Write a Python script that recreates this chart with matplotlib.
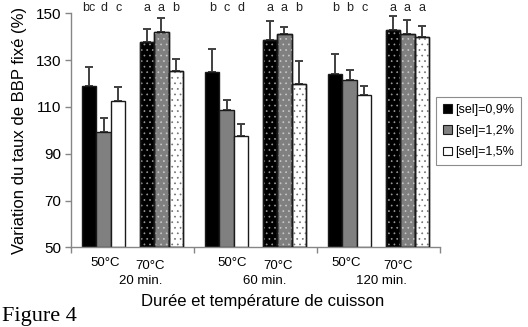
import matplotlib
matplotlib.use("Agg")
import matplotlib.pyplot as plt
import matplotlib.transforms as mtransforms
from matplotlib.patches import Patch

# ---- data ----
durations = ["20 min.", "60 min.", "120 min."]
temperatures = ["50°C", "70°C"]
series_labels = ["[sel]=0,9%", "[sel]=1,2%", "[sel]=1,5%"]
# order: 20min 50°C, 20min 70°C, 60min 50°C, 60min 70°C, 120min 50°C, 120min 70°C
sel_09 = [118.9, 137.9, 124.8, 138.5, 123.9, 142.7]
err_09 = [8.3, 5.3, 9.9, 8.2, 8.8, 6.0]
sel_12 = [99.3, 142.0, 108.5, 141.0, 121.6, 141.0]
err_12 = [6.1, 6.0, 4.3, 3.0, 4.2, 6.3]
sel_15 = [112.7, 125.5, 97.4, 119.8, 115.1, 140.0]
err_15 = [5.7, 5.1, 5.2, 9.7, 4.0, 4.4]
letters_09 = ["bc", "a", "b", "a", "b", "a"]
letters_12 = ["d", "a", "c", "a", "b", "a"]
letters_15 = ["c", "b", "d", "b", "c", "a"]
y_ticks = [50, 70, 90, 110, 130, 150]

values = [sel_09, sel_12, sel_15]
errors = [err_09, err_12, err_15]
letters = [letters_09, letters_12, letters_15]

# ---- style ----
W, H = 528, 327
plt.rcParams["hatch.linewidth"] = 0.5
fig = plt.figure(figsize=(W / 100, H / 100), dpi=100)
ax = fig.add_axes([71 / W, 1 - 247.3 / H, (440 - 71) / W, (247.3 - 13.3) / H])

face_colors = ["#000000", "#808080", "#ffffff"]
dot_colors = ["#9a9a9a", "#c8c8c8", "#707070"]
bar_w = 0.118
cluster_off = 0.234
axis_gray = "#868686"

for g in range(len(durations)):
    for t in range(len(temperatures)):
        idx = g * 2 + t
        center = g + 0.5 + (t - 0.5) * 2 * cluster_off
        for s in range(3):
            x = center + (s - 1) * bar_w
            v = values[s][idx]
            e = errors[s][idx]
            ax.bar(x, v - 50, bottom=50, width=bar_w, color=face_colors[s],
                   edgecolor="#1a1a1a", linewidth=1.0, zorder=2)
            if t == 1:
                ax.bar(x, v - 50, bottom=50, width=bar_w, facecolor="none",
                       edgecolor=dot_colors[s], linewidth=0, hatch="...", zorder=3)
                ax.bar(x, v - 50, bottom=50, width=bar_w, facecolor="none",
                       edgecolor="#1a1a1a", linewidth=1.0, zorder=4)
            ax.errorbar(x, v, yerr=[[0], [e]], fmt="none", ecolor="#404040",
                        elinewidth=1.4, capsize=3.2, capthick=1.4, zorder=1)
            ax.text(x, 151.0, letters[s][idx], ha="center", va="baseline",
                    fontsize=9, family="Liberation Sans", color="#222222",
                    clip_on=False)

ax.set_xlim(0, 3)
ax.set_ylim(50, 150)
ax.set_yticks(y_ticks)
ax.set_yticklabels([str(v) for v in y_ticks], fontsize=11, family="Liberation Sans")
ax.set_xticks([0, 1, 2, 3])
ax.set_xticklabels([])
for sp in ["top", "right"]:
    ax.spines[sp].set_visible(False)
for sp in ["left", "bottom"]:
    ax.spines[sp].set_color(axis_gray)
    ax.spines[sp].set_linewidth(1.0)
ax.tick_params(axis="both", direction="out", length=4, color=axis_gray, width=1.0)
ax.tick_params(axis="y", pad=3)

ax.set_ylabel("Variation du taux de BBP fixé (%)", fontsize=12,
              family="Liberation Sans", labelpad=6)

trans = mtransforms.blended_transform_factory(ax.transData, fig.transFigure)
temp_label_x = [0.280, 0.640, 1.309, 1.683, 2.236, 2.659]
for i, xpos in enumerate(temp_label_x):
    t = i % 2
    ybase = 1 - (266 if t == 0 else 269.3) / H
    ax.text(xpos, ybase, temperatures[t], transform=trans, ha="center",
            va="baseline", fontsize=9.5, family="Liberation Sans")
dur_label_x = [0.569, 1.577, 2.52]
for g, xpos in enumerate(dur_label_x):
    ax.text(xpos, 1 - 284 / H, durations[g], transform=trans, ha="center",
            va="baseline", fontsize=9.5, family="Liberation Sans")

fig.text(263 / W, 1 - 305.7 / H, "Durée et température de cuisson",
         ha="center", va="baseline", fontsize=12, family="Liberation Sans")
fig.text(2 / W, 1 - 321.5 / H, "Figure 4", ha="left", va="baseline",
         fontsize=16, family="Liberation Serif")

handles = [Patch(facecolor=c, edgecolor="#1a1a1a", linewidth=0.8) for c in face_colors]
leg = fig.legend(handles, series_labels, loc="upper left",
                 bbox_to_anchor=(436 / W, 1 - 96.7 / H), borderaxespad=0,
                 fancybox=False, frameon=True, edgecolor="#707070",
                 prop={"family": "Liberation Sans", "size": 9},
                 handlelength=0.7, handleheight=0.7, handletextpad=0.25,
                 labelspacing=0.75, borderpad=0.55)
leg.get_frame().set_linewidth(0.8)

fig.savefig("out.png", dpi=100)
